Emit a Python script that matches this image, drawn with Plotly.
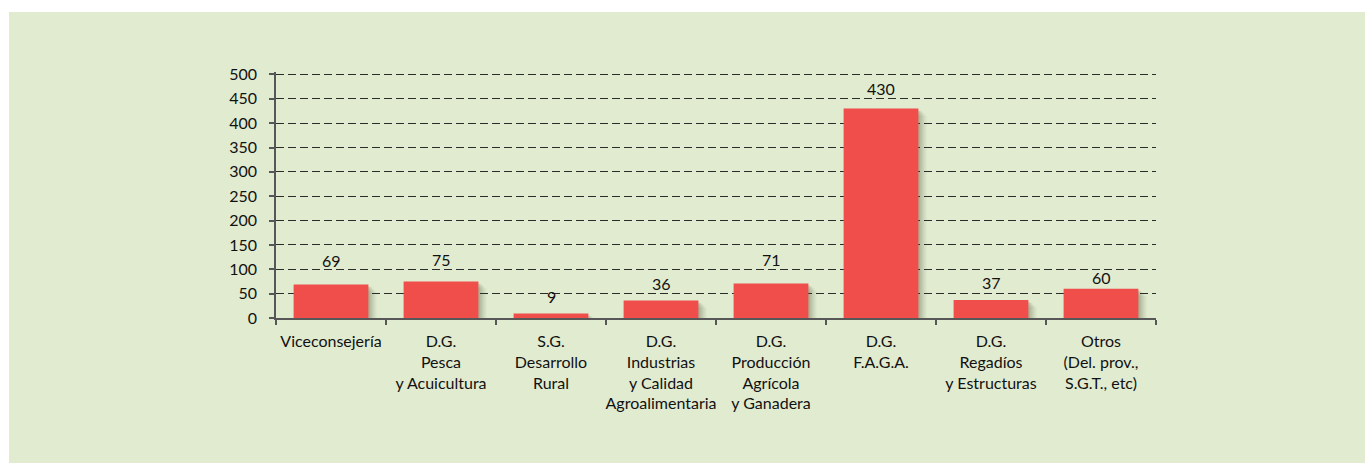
import plotly.graph_objects as go

# Categories (multi-line labels) and counts per unit
categories = [
    "Viceconsejería",
    "D.G.<br>Pesca<br>y Acuicultura",
    "S.G.<br>Desarrollo<br>Rural",
    "D.G.<br>Industrias<br>y Calidad<br>Agroalimentaria",
    "D.G.<br>Producción<br>Agrícola<br>y Ganadera",
    "D.G.<br>F.A.G.A.",
    "D.G.<br>Regadíos<br>y Estructuras",
    "Otros<br>(Del. prov.,<br>S.G.T., etc)",
]
values = [69, 75, 9, 36, 71, 430, 37, 60]
y_ticks = [0, 50, 100, 150, 200, 250, 300, 350, 400, 450, 500]

# distance (px) from each bar top to the centre of its value label
label_offsets_px = [24, 22, 17, 17, 24, 20, 17, 11]

W, H = 1365, 463
Y_MAX = 505
ML, MR, MB = 276, 209, 145
PX_PER_UNIT = 0.488
ph = round(Y_MAX * PX_PER_UNIT)
MT = H - MB - ph
pw = W - ML - MR

BAR = "#f04e4a"
PANEL = "#e1ebd0"
INK = "#111111"
AXIS = "#575757"
FONT = "Lato"
FS = 16
BAR_W = 0.68
UNIT_PX = pw / len(categories)

fig = go.Figure()

# soft drop shadow under each bar (stacked translucent layers)
for dx, dy, alpha in [(8, 7, 0.06), (6, 5, 0.08), (4, 3, 0.10), (2, 2, 0.12)]:
    fig.add_trace(go.Bar(
        x=categories, y=values,
        base=-dy / PX_PER_UNIT,
        width=BAR_W, offset=-BAR_W / 2 + dx / UNIT_PX,
        marker=dict(color=f"rgba(55,65,35,{alpha})", line=dict(width=0)),
        hoverinfo="skip",
    ))

fig.add_trace(go.Bar(
    x=categories, y=values,
    width=BAR_W, offset=-BAR_W / 2,
    marker=dict(color=BAR, line=dict(width=0)),
    hoverinfo="x+y",
))

# value labels above bars
for c, v, off in zip(categories, values, label_offsets_px):
    fig.add_annotation(
        x=c, y=v, text=str(v), showarrow=False,
        yanchor="middle", yshift=off,
        font=dict(family=FONT, size=FS, color=INK),
    )

# green panel behind the chart
def px_x(p):
    return (p - ML) / pw

def px_y(p):
    return (H - MB - p) / ph

fig.add_shape(
    type="rect", xref="paper", yref="paper",
    x0=px_x(9), x1=px_x(W + 2), y0=px_y(H + 2), y1=px_y(12),
    fillcolor=PANEL, line=dict(width=0), layer="below",
)

fig.update_layout(
    width=W, height=H,
    margin=dict(l=ML, r=MR, t=MT, b=MB, pad=0),
    paper_bgcolor="white",
    plot_bgcolor="rgba(0,0,0,0)",
    barmode="overlay",
    showlegend=False,
    font=dict(family=FONT, size=FS, color=INK),
)
fig.update_xaxes(
    showline=True, linecolor=AXIS, linewidth=1.5,
    ticks="outside", ticklen=5, tickcolor=AXIS, tickwidth=1.5,
    tickson="boundaries", showgrid=False,
    tickangle=0, ticklabelstandoff=8,
    tickfont=dict(family=FONT, size=FS, color=INK),
)
fig.update_yaxes(
    range=[0, Y_MAX], tickvals=y_ticks,
    showline=True, linecolor=AXIS, linewidth=1.5,
    ticks="outside", ticklen=5, tickcolor=AXIS, tickwidth=1.5,
    showgrid=True, gridcolor="#2b2b2b", gridwidth=1, griddash="8px,4px",
    zeroline=False, ticklabelstandoff=9,
    tickfont=dict(family=FONT, size=FS, color=INK),
)

fig.write_html("out.html")
